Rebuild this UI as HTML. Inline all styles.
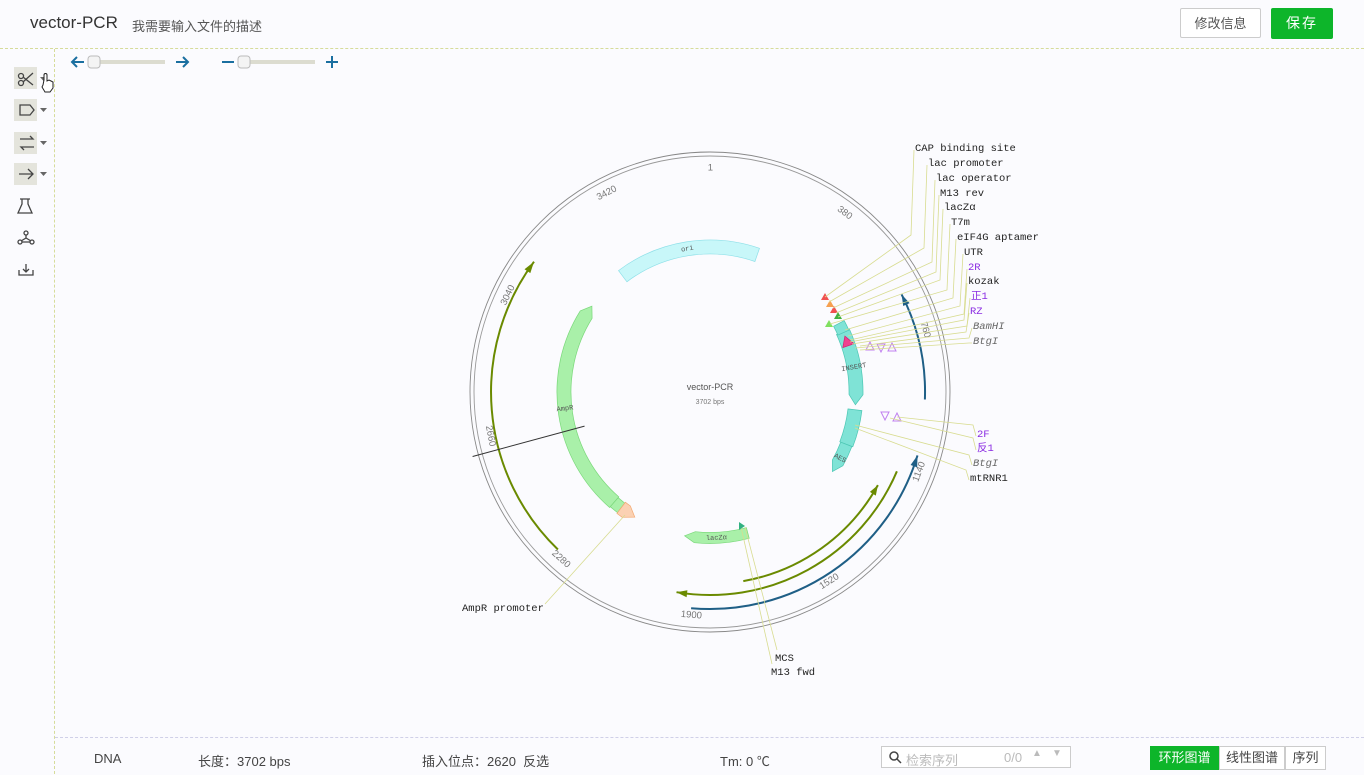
<!DOCTYPE html>
<html><head><meta charset="utf-8">
<style>
html,body{margin:0;padding:0;width:1364px;height:774px;overflow:hidden;background:#fbfbfe;font-family:"Liberation Sans","Noto Sans CJK SC",sans-serif;}
.hdr{position:absolute;left:0;top:0;width:1364px;height:48px;border-bottom:1px dashed #d6dc9a;}
.title{position:absolute;left:30px;top:13px;font-size:17px;color:#333;}
.desc{position:absolute;left:132px;top:16px;font-size:13px;color:#555;}
.btn1{position:absolute;left:1180px;top:8px;width:81px;height:30px;border:1px solid #ccc;border-radius:2px;background:#fff;font-size:13px;color:#555;text-align:center;line-height:30px;box-sizing:border-box;}
.btn2{position:absolute;left:1271px;top:8px;width:62px;height:31px;background:#0db52a;border-radius:2px;color:#fff;font-size:14px;text-align:center;line-height:31px;letter-spacing:2px;}
.side{position:absolute;left:0;top:49px;width:54px;height:725px;border-right:1px dashed #d6dc9a;}
.bot{position:absolute;left:55px;top:737px;width:1309px;height:37px;border-top:1px dashed #d0d0e8;font-size:13px;color:#444;}
.bot span{position:absolute;top:13px;}
.tb{position:absolute;left:14px;width:23px;height:22px;background:#e4e4dc;}
</style></head><body>
<div class="hdr"><div class="title">vector-PCR</div><div class="desc">我需要输入文件的描述</div>
<div class="btn1">修改信息</div><div class="btn2">保存</div></div>
<div class="side">
<div class="tb" style="top:18px"></div><div class="tb" style="top:50px"></div><div class="tb" style="top:83px"></div><div class="tb" style="top:114px"></div>
</div>
<svg style="position:absolute;left:0;top:0" width="1364" height="774" id="s" xmlns="http://www.w3.org/2000/svg">
<g stroke="#444" fill="none" stroke-width="1.3">
<circle cx="21" cy="76" r="2.5"/><circle cx="21" cy="83" r="2.5"/><path d="M23 77 L33 85 M23 82 L33 73"/>
<path d="M20 105 h10 l4 5 l-4 5 h-10z"/>
<path d="M20 139 h13 l-3 -3 M34 147 h-13 l3 3"/>
<path d="M19 174 h14 M28 169 l5 5 l-5 5"/>
<path d="M22 199 v5 l-4 9 h14 l-4 -9 v-5 M20 199 h10"/>
<circle cx="26" cy="233" r="2"/><circle cx="20" cy="242" r="2"/><circle cx="32" cy="242" r="2"/><path d="M26 235 v3 l-5 3 M26 238 l5 3 M22 242 h8"/>
<path d="M26 264 v8 M23 269 l3 3 l3 -3 M19 270 v5 h14 v-5"/>
</g>
<g fill="#666"><path d="M40 77 l7 0 l-3.5 4z"/><path d="M40 108 l7 0 l-3.5 4z"/><path d="M40 141 l7 0 l-3.5 4z"/><path d="M40 172 l7 0 l-3.5 4z"/></g>
<path d="M44 80 v-5 a1.5 1.5 0 0 1 3 0 v6 l2 -1 2 1 2 1 v6 l-3 4 h-5 l-3 -5 1 -2z" fill="#fff" stroke="#222" stroke-width="1"/>
<g stroke="#1a6fa0" stroke-width="2" fill="none"><path d="M72 62 h12 M77 57 l-5 5 5 5"/><path d="M176 62 h12 M183 57 l5 5 -5 5"/><path d="M222 62 h12"/><path d="M326 62 h12 M332 56 v12"/></g>
<rect x="90" y="60" width="75" height="4" fill="#dcdcd0"/><rect x="88" y="56" width="12" height="12" rx="3" fill="#f4f4f4" stroke="#bbb"/>
<rect x="240" y="60" width="75" height="4" fill="#dcdcd0"/><rect x="238" y="56" width="12" height="12" rx="3" fill="#f4f4f4" stroke="#bbb"/>
<g id="map"></g>
</svg>
<div class="bot">
<span style="left:39px">DNA</span><span style="left:143px">长度：3702 bps</span><span style="left:367px">插入位点：2620&nbsp;&nbsp;反选</span><span style="left:665px">Tm: 0 ℃</span>
<div style="position:absolute;left:826px;top:8px;width:190px;height:22px;border:1px solid #ccc;background:#fff;box-sizing:border-box;font-size:13px;color:#bbb;">
<svg width="14" height="14" style="position:absolute;left:6px;top:3px"><circle cx="6" cy="6" r="4" stroke="#444" stroke-width="1.5" fill="none"/><path d="M9 9 l4 4" stroke="#444" stroke-width="1.5"/></svg>
<span style="left:24px;top:3px">检索序列</span><span style="left:122px;top:3px">0/0</span><span style="left:150px;top:1px;font-size:10px">▲</span><span style="left:170px;top:1px;font-size:10px">▼</span></div>
<div style="position:absolute;left:1095px;top:8px;width:69px;height:24px;background:#0db52a;color:#fff;text-align:center;line-height:24px;font-size:13px">环形图谱</div>
<div style="position:absolute;left:1164px;top:8px;width:66px;height:24px;border:1px solid #ccc;box-sizing:border-box;background:#fff;text-align:center;line-height:22px;font-size:13px">线性图谱</div>
<div style="position:absolute;left:1230px;top:8px;width:41px;height:24px;border:1px solid #ccc;box-sizing:border-box;background:#fff;text-align:center;line-height:22px;font-size:13px">序列</div>
</div>
<script>
var cx=710,cy=392,N=3702,out='';
function pt(r,a){var t=a*Math.PI/180;return [cx+r*Math.sin(t),cy-r*Math.cos(t)];}
function P(p){return p[0].toFixed(1)+' '+p[1].toFixed(1);}
function arcD(r,a1,a2,sw){var l=Math.abs(a2-a1)>180?1:0;return 'A'+r+' '+r+' 0 '+l+' '+sw+' '+P(pt(r,a2));}
function feat(a1,a2,rm,w,fill,stroke,arrow,lab){
 var ro=rm+w/2,ri=rm-w/2,t=4,d;
 if(arrow=='end'){var b=a2-t;d='M'+P(pt(ro,a1))+arcD(ro,a1,b,1)+'L'+P(pt(rm,a2))+'L'+P(pt(ri,b))+arcD(ri,b,a1,0)+'Z';}
 else if(arrow=='start'){var b=a1+t;d='M'+P(pt(rm,a1))+'L'+P(pt(ro,b))+arcD(ro,b,a2,1)+'L'+P(pt(ri,a2))+arcD(ri,a2,b,0)+'Z';}
 else d='M'+P(pt(ro,a1))+arcD(ro,a1,a2,1)+'L'+P(pt(ri,a2))+arcD(ri,a2,a1,0)+'Z';
 out+='<path d="'+d+'" fill="'+fill+'" stroke="'+stroke+'" stroke-width="0.7"/>';
 if(lab){var m=((a1+a2)/2)%360,p=pt(rm,m),rot=(m>90&&m<270)?m-180:m;
  if(lab[1])rot=m-90+(m>180?180:0);
  out+='<text x="'+p[0]+'" y="'+p[1]+'" transform="rotate('+rot+' '+p[0]+' '+p[1]+')" font-size="7" fill="#555" text-anchor="middle" dominant-baseline="middle" font-family="Liberation Mono">'+lab[0]+'</text>';}
}
function larc(a1,a2,r,col,arrowAt){
 out+='<path d="M'+P(pt(r,a1))+arcD(r,a1,a2,1)+'" fill="none" stroke="'+col+'" stroke-width="2"/>';
 var tip,b;
 if(arrowAt=='end'){tip=pt(r,a2);b=a2-3;}else{tip=pt(r,a1);b=a1+3;}
 out+='<path d="M'+P(tip)+'L'+P(pt(r+3.5,b))+'L'+P(pt(r-3.5,b))+'Z" fill="'+col+'"/>';
}
out+='<circle cx="'+cx+'" cy="'+cy+'" r="240" fill="none" stroke="#888" stroke-width="0.9"/>';
out+='<circle cx="'+cx+'" cy="'+cy+'" r="236" fill="none" stroke="#999" stroke-width="0.9"/>';
var ticks=[1,380,760,1140,1520,1900,2280,2660,3040,3420];
ticks.forEach(function(v){var a=v/N*360,p=pt(224,a);
 var rot=(a>90&&a<270)?a-180:a; if(a<1)rot=0;
 out+='<text x="'+p[0]+'" y="'+p[1]+'" transform="rotate('+rot+' '+p[0]+' '+p[1]+')" font-size="9.5" fill="#777" text-anchor="middle" dominant-baseline="middle">'+v+'</text>';});
larc(224,306.5,219,'#6a8a00','end');
larc(63,92,215,'#1f5f86','start');
larc(107,185,217,'#1f5f86','start');
larc(113,189.5,203,'#6a8a00','end');
larc(119,170,192,'#6a8a00','start');
feat(323,379,145,14,'#c8f7f9','#8ee0e8',null,['ori']);
feat(221,306,146,14,'#a9f0a9','#7ad87a','end',['AmpR',1]);
feat(217.5,221,146,12,'#a9f0a9','#7ad87a',null);
feat(211,217.5,146,14,'#fbd1b3','#f4a870','start');
feat(165,190,146,11,'#a9f0a9','#7ad87a','end',['lacZα']);
feat(65.5,95,146,14,'#7fe3d6','#4cc7b4','end',['INSERT',1]);
feat(97,111,146,14,'#7fe3d6','#4cc7b4',null);
feat(111,123,146,12,'#7fe3d6','#4cc7b4','end',['AES',1]);
feat(62,66,146,12,'#7fe3d6','#4cc7b4',null);
feat(67.5,71.5,146,12,'#f0408e','#d02070','start');
[[825,297,'#f05050'],[830,304,'#f6a050'],[834,310,'#f05050'],[838,316,'#40b040'],[829,324,'#80e060']].forEach(function(t){
 out+='<path d="M'+(t[0]-4)+' '+(t[1]+3)+' L'+(t[0]+4)+' '+(t[1]+3)+' L'+t[0]+' '+(t[1]-4)+'Z" fill="'+t[2]+'"/>';});
[[870,346],[881,348],[892,347],[885,416],[897,417]].forEach(function(t,i){
 var d=i%2==0?'M'+(t[0]-4)+' '+(t[1]+4)+'L'+(t[0]+4)+' '+(t[1]+4)+'L'+t[0]+' '+(t[1]-4)+'Z':'M'+(t[0]-4)+' '+(t[1]-4)+'L'+(t[0]+4)+' '+(t[1]-4)+'L'+t[0]+' '+(t[1]+4)+'Z';
 out+='<path d="'+d+'" fill="none" stroke="#c080f0" stroke-width="1"/>';});
var c1=pt(130,254.8),c2=pt(246,254.8);
out+='<line x1="'+c1[0]+'" y1="'+c1[1]+'" x2="'+c2[0]+'" y2="'+c2[1]+'" stroke="#333" stroke-width="1"/>';
out+='<text x="710" y="390" font-size="9" fill="#555" text-anchor="middle">vector-PCR</text><text x="710" y="404" font-size="7" fill="#777" text-anchor="middle">3702 bps</text>';
var L=[['CAP binding site',915,147,'#222','',825,297,235],['lac promoter',928,162,'#222','',829,302,248],['lac operator',936,177,'#222','',833,308,262],['M13 rev',940,192,'#222','',836,313,272],['lacZα',944,206,'#222','',838,317,280],['T7m',951,221,'#222','',830,324,290],['eIF4G aptamer',957,236,'#222','',845,330,298],['UTR',964,251,'#222','',848,336,306],['2R',968,266,'#8a2be2','',850,340,314],['kozak',968,280,'#222','',850,342,320],['正1',971,295,'#8a2be2','',852,344,326],['RZ',970,310,'#8a2be2','',860,346,332],['BamHI',973,325,'#666','italic',855,348,338],['BtgI',973,340,'#666','italic',860,350,343],
['2F',977,433,'#8a2be2','',897,417,425],['反1',977,447,'#8a2be2','',890,418,438],['BtgI',973,462,'#666','italic',855,425,455],['mtRNR1',970,477,'#222','',855,428,470]];
L.forEach(function(l){var kx=l[1]-4,ky=l[7];
 out+='<polyline points="'+(l[1]-1)+','+(l[2]+3)+' '+kx+','+ky+' '+l[5]+','+l[6]+'" fill="none" stroke="#d8dc90" stroke-width="0.8"/>';
 out+='<text x="'+l[1]+'" y="'+(l[2]+4)+'" font-size="10.5" fill="'+l[3]+'" font-style="'+(l[4]||'normal')+'" font-family="Liberation Mono">'+l[0]+'</text>';});
out+='<polyline points="545,604 625,515" fill="none" stroke="#d8dc90" stroke-width="0.8"/>';
out+='<text x="462" y="611" font-size="10.5" fill="#222" font-family="Liberation Mono">AmpR promoter</text>';
out+='<polyline points="777,650 745,527" fill="none" stroke="#d8dc90" stroke-width="0.8"/><polyline points="772,664 741,527" fill="none" stroke="#d8dc90" stroke-width="0.8"/>';
out+='<path d="M739 522 l6 4 l-6 4z" fill="#30b080"/>';
out+='<text x="775" y="661" font-size="10.5" fill="#222" font-family="Liberation Mono">MCS</text><text x="771" y="675" font-size="10.5" fill="#222" font-family="Liberation Mono">M13 fwd</text>';
document.getElementById('map').innerHTML=out;
</script>
</body></html>
